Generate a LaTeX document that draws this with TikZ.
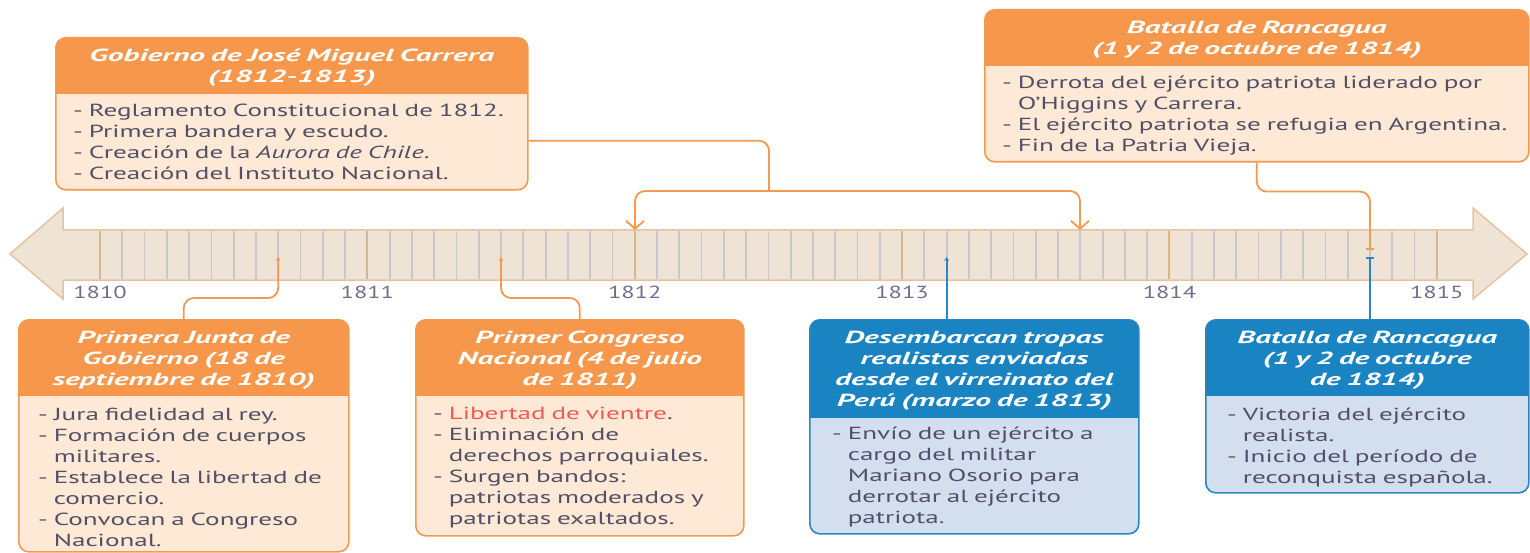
\documentclass[tikz,border=0pt]{standalone}
\usepackage{fontspec}
\setmainfont{PT Sans}[FakeStretch=1.55]
\newfontfamily\cabezafont{PT Sans}[FakeStretch=1.8]
\newfontfamily\aniofont{PT Sans}[FakeStretch=1.4]
\usetikzlibrary{arrows.meta}
\usetikzlibrary{positioning}

\definecolor{ocabeza}{HTML}{F6974B}
\definecolor{ocuerpo}{HTML}{FDE9D5}
\definecolor{olinea}{HTML}{F39A50}
\definecolor{acabeza}{HTML}{1A84C3}
\definecolor{acuerpo}{HTML}{D3DEEE}
\definecolor{alinea}{HTML}{2A86C2}
\definecolor{textogris}{HTML}{534F66}
\definecolor{aniogris}{HTML}{746E8C}
\definecolor{rojo}{HTML}{EE5B55}
\definecolor{fondolinea}{HTML}{EFE3D6}
\definecolor{bordelinea}{HTML}{E2C4A2}
\definecolor{marcagris}{HTML}{C6C7CF}
\definecolor{marcacafe}{HTML}{D6B590}

\newcommand{\tamano}{\fontsize{17.5pt}{21pt}\selectfont}
\newcommand{\sigue}{\phantom{-\ }}

\begin{document}
\begin{tikzpicture}[x=1pt, y=-1pt]
    \tikzset{
      ocaja/.style={draw=olinea, fill=ocuerpo, line width=1.6pt, rounded corners=10pt,
        inner sep=0pt, anchor=north west,
        path picture={\fill[ocabeza, sharp corners] (path picture bounding box.north west)
          rectangle ([yshift=-#1]path picture bounding box.north east);}},
      acaja/.style={draw=alinea, fill=acuerpo, line width=1.6pt, rounded corners=10pt,
        inner sep=0pt, anchor=north west,
        path picture={\fill[acabeza, sharp corners] (path picture bounding box.north west)
          rectangle ([yshift=-#1]path picture bounding box.north east);}},
      cabeza/.style={text=white, font=\cabezafont\tamano\bfseries\itshape, align=center,
        text width=#1, anchor=base, inner sep=0pt},
      cuerpo/.style={text=textogris, font=\tamano, align=left,
        text width=#1, anchor=base west, inner sep=0pt},
      anio/.style={text=aniogris, font=\aniofont\tamano, anchor=base, inner sep=0pt},
      oline/.style={draw=olinea, line width=1.8pt, rounded corners=10pt},
      aline/.style={draw=alinea, line width=1.8pt},
      punta/.style={{Stealth[length=4pt,width=5pt]}-},
    }
    \useasboundingbox (0,0) rectangle (1530,553);

    % linea de tiempo
    \filldraw[fill=fondolinea, draw=bordelinea, line width=1.5pt]
      (63,230) -- (63,208) -- (10,254) -- (63,299) -- (63,280) -- (1473,280)
      -- (1473,299) -- (1527,254) -- (1473,208) -- (1473,230) -- cycle;
    \foreach \m in {0,...,60}
      \draw[marcagris, line width=1.8pt] ({100+\m*22.28},231.5) -- ({100+\m*22.28},278.5);
    \foreach \a [count=\i from 0] in {1810,...,1815} {
      \draw[marcacafe, line width=2pt] ({100+\i*267.36},231.5) -- ({100+\i*267.36},278.5);
      \node[anio] (a\a) at ({100+\i*267.36},298) {\a};
    }

    % puntos de la linea
    \coordinate (sep1810) at (278.2,257);
    \coordinate (jul1811) at (501,257);
    \coordinate (ene1812) at (635,230);
    \coordinate (sep1813) at (1080,230);
    \coordinate (mar1813) at (946.6,257);
    \coordinate (oct1814a) at (1370,250);
    \coordinate (oct1814b) at (1370,257);
    \coordinate (bifurca) at (769,191);

    % cajas de arriba
    \node[ocaja=56, minimum width=472, minimum height=152] (carrera) at (55,37) {};
    \node[cabeza=470] at ([yshift=-25]carrera.north)
      {Gobierno de José Miguel Carrera\\(1812-1813)};
    \node[cuerpo=460] at ([xshift=18, yshift=-80]carrera.north west)
      {- Reglamento Constitucional de 1812.\\
       - Primera bandera y escudo.\\
       - Creación de la \textit{Aurora de Chile}.\\
       - Creación del Instituto Nacional.};

    \node[ocaja=56, minimum width=544, minimum height=152] (rancaguaA) at (984,9) {};
    \node[cabeza=540] at ([yshift=-25]rancaguaA.north)
      {Batalla de Rancagua\\(1 y 2 de octubre de 1814)};
    \node[cuerpo=540] at ([xshift=18, yshift=-80]rancaguaA.north west)
      {- Derrota del ejército patriota liderado por\\
       \sigue O’Higgins y Carrera.\\
       - El ejército patriota se refugia en Argentina.\\
       - Fin de la Patria Vieja.};

    % cajas de abajo
    \node[ocaja=76, minimum width=330, minimum height=232] (junta) at (18,319) {};
    \node[cabeza=330] at ([yshift=-24]junta.north)
      {Primera Junta de\\Gobierno (18 de\\septiembre de 1810)};
    \node[cuerpo=330] at ([xshift=20, yshift=-101]junta.north west)
      {- Jura fidelidad al rey.\\
       - Formación de cuerpos\\
       \sigue militares.\\
       - Establece la libertad de\\
       \sigue comercio.\\
       - Convocan a Congreso\\
       \sigue Nacional.};

    \node[ocaja=76, minimum width=328, minimum height=216] (congreso) at (415,319) {};
    \node[cabeza=328] at ([yshift=-24]congreso.north)
      {Primer Congreso\\Nacional (4 de julio\\de 1811)};
    \node[cuerpo=330] at ([xshift=18, yshift=-100]congreso.north west)
      {- \textcolor{rojo}{Libertad de vientre}.\\
       - Eliminación de\\
       \sigue derechos parroquiales.\\
       - Surgen bandos:\\
       \sigue patriotas moderados y\\
       \sigue patriotas exaltados.};

    \node[acaja=98, minimum width=329, minimum height=214] (desemb) at (809,319) {};
    \node[cabeza=329] at ([yshift=-24]desemb.north)
      {Desembarcan tropas\\realistas enviadas\\desde el virreinato del\\Perú (marzo de 1813)};
    \node[cuerpo=320] at ([xshift=23, yshift=-120]desemb.north west)
      {- Envío de un ejército a\\
       \sigue cargo del militar\\
       \sigue Mariano Osorio para\\
       \sigue derrotar al ejército\\
       \sigue patriota.};

    \node[acaja=76, minimum width=323, minimum height=173] (rancaguaB) at (1205,319) {};
    \node[cabeza=323] at ([yshift=-24]rancaguaB.north)
      {Batalla de Rancagua\\(1 y 2 de octubre\\de 1814)};
    \node[cuerpo=310] at ([xshift=22, yshift=-101]rancaguaB.north west)
      {- Victoria del ejército\\
       \sigue realista.\\
       - Inicio del período de\\
       \sigue reconquista española.};

    % conectores
    \draw[oline] ([yshift=-27]carrera.east) -| (bifurca);
    \draw[oline, -{Straight Barb[length=8pt,width=18pt]}] (bifurca) -| (ene1812);
    \draw[oline, -{Straight Barb[length=8pt,width=18pt]}] (bifurca) -| (sep1813);
    \draw[oline, punta] (sep1810) |- ([yshift=21]junta.north) -- (junta.north);
    \draw[oline, punta] (jul1811) |- ([yshift=21]congreso.north) -- (congreso.north);
    \draw[aline, punta] (mar1813) -- (mar1813 |- desemb.north);
    \draw[oline, -{Bar[width=8pt]}] (rancaguaA.south) -- ++(0,29) -| (oct1814a);
    \draw[aline, {Bar[width=8pt]}-] (oct1814b) -- (oct1814b |- rancaguaB.north);
\end{tikzpicture}
\end{document}
